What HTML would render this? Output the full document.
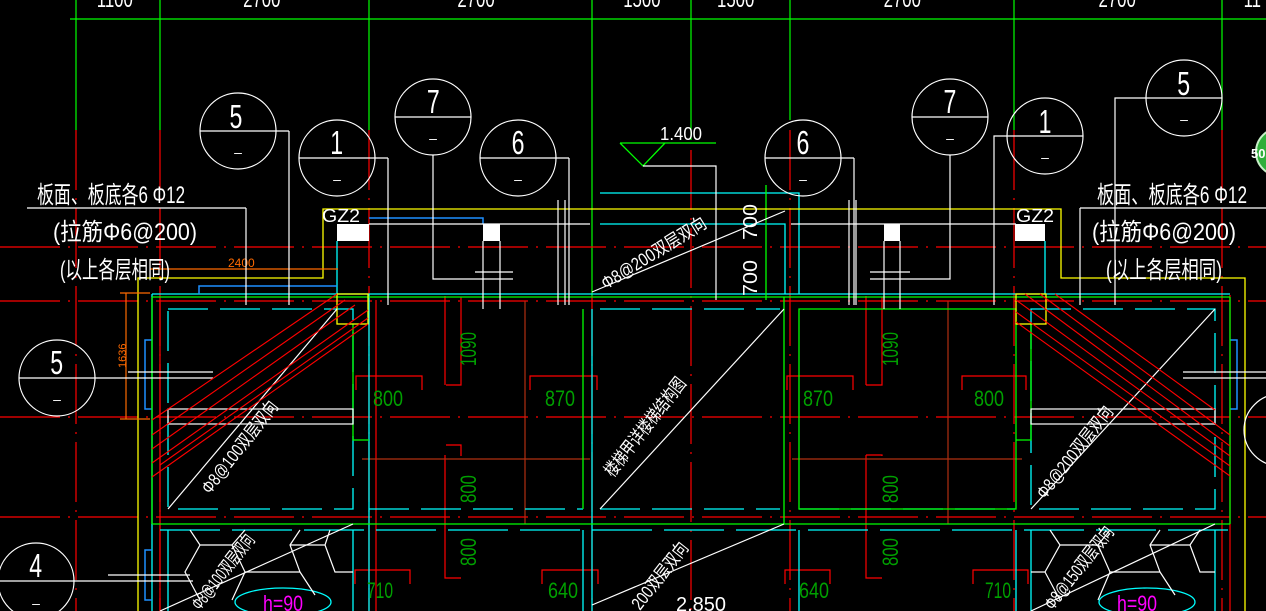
<!DOCTYPE html>
<html><head><meta charset="utf-8"><style>
html,body{margin:0;padding:0;background:#000;width:1266px;height:611px;overflow:hidden}
svg{display:block}
text{font-family:"Liberation Sans","Noto Sans CJK SC",sans-serif}
</style></head><body>
<svg width="1266" height="611" viewBox="0 0 1266 611" xmlns="http://www.w3.org/2000/svg">
<rect width="1266" height="611" fill="#000"/>
<g stroke="#00ff00" stroke-width="1.2" fill="none">
<line x1="70" y1="19" x2="1266" y2="19"/>
<line x1="76" y1="0" x2="76" y2="130"/><line x1="160" y1="0" x2="160" y2="130"/>
<line x1="369" y1="0" x2="369" y2="130"/><line x1="592" y1="0" x2="592" y2="296"/>
<line x1="691" y1="0" x2="691" y2="140"/><line x1="790" y1="0" x2="790" y2="120"/>
<line x1="1014" y1="0" x2="1014" y2="130"/><line x1="1222" y1="0" x2="1222" y2="130"/>
</g>
<g fill="#fff" font-size="24" text-anchor="middle" transform="scale(0.7,1)">
<text x="164" y="7">1100</text><text x="374" y="7">2700</text><text x="680" y="7">2700</text>
<text x="917" y="7">1500</text><text x="1051" y="7">1500</text><text x="1289" y="7">2700</text>
<text x="1596" y="7">2700</text><text x="1789" y="7">11</text>
</g>
<g stroke="#ff0000" stroke-width="1.2" stroke-dasharray="60,8,2,8" fill="none">
<line x1="76" y1="130" x2="76" y2="611"/><line x1="160" y1="130" x2="160" y2="611"/>
<line x1="369" y1="130" x2="369" y2="611"/><line x1="592" y1="296" x2="592" y2="611"/>
<line x1="691" y1="150" x2="691" y2="611"/><line x1="790" y1="130" x2="790" y2="611"/>
<line x1="1014" y1="130" x2="1014" y2="611"/><line x1="1222" y1="130" x2="1222" y2="611"/>
<line x1="0" y1="247" x2="1266" y2="247"/><line x1="0" y1="301" x2="1266" y2="301"/>
<line x1="0" y1="417" x2="1266" y2="417"/><line x1="0" y1="517" x2="1266" y2="517"/>
</g>
<g stroke="#ff0000" stroke-width="1.2" fill="none">
<line x1="160" y1="300" x2="160" y2="611"/><line x1="376" y1="300" x2="376" y2="611"/>
<line x1="1230" y1="295" x2="1230" y2="611"/>
<path d="M356 390 V376 H422 V390"/><path d="M530 390 V376 H597 V390"/>
<path d="M787 390 V376 H853 V390"/><path d="M962 390 V376 H1026 V390"/>
<path d="M461 297 V385 H446"/><path d="M461 456 V445 H446"/>
<path d="M882 297 V385 H866"/><path d="M882 456 V455 H866"/>
<path d="M445 296 V385"/><path d="M445 455 V578 H461"/><path d="M866 455 V578 H882"/><path d="M866 296 V385"/>
<path d="M355 584 V570 H410 V584"/><path d="M542 584 V570 H598 V584"/>
<path d="M785 584 V570 H830 V584"/><path d="M973 584 V570 H1028 V584"/>
</g>
<g stroke="#b03010" stroke-width="1.2" fill="none">
<line x1="362" y1="459" x2="590" y2="459"/><line x1="525" y1="301" x2="525" y2="524"/>
<line x1="792" y1="459" x2="1022" y2="459"/><line x1="948" y1="301" x2="948" y2="524"/>
</g>
<g stroke="#00ffff" stroke-width="1.3" fill="none">
<line x1="152" y1="294" x2="1230" y2="294"/>
<path d="M168 309 H353 V509 H168 Z" stroke-dasharray="40,12"/>
<path d="M1031 309 H1215 V509 H1031 Z" stroke-dasharray="40,12"/>
<line x1="152" y1="294" x2="152" y2="611"/><line x1="369" y1="294" x2="369" y2="611"/>
<line x1="592" y1="309" x2="592" y2="611"/><line x1="600" y1="309" x2="780" y2="309" stroke-dasharray="40,12"/>
<line x1="600" y1="509" x2="780" y2="509" stroke-dasharray="40,12"/>
<line x1="369" y1="509" x2="583" y2="509" stroke-dasharray="40,12"/>
<line x1="799" y1="509" x2="1015" y2="509" stroke-dasharray="40,12"/>
<line x1="160" y1="530" x2="1230" y2="530" stroke-dasharray="60,12"/>
<line x1="168" y1="530" x2="168" y2="611"/><line x1="353" y1="530" x2="353" y2="611"/>
<line x1="1031" y1="530" x2="1031" y2="611"/><line x1="1215" y1="530" x2="1215" y2="611"/>
<line x1="799" y1="530" x2="799" y2="611"/><line x1="1016" y1="530" x2="1016" y2="611"/>
<line x1="583" y1="530" x2="583" y2="611"/>
<line x1="337" y1="241" x2="337" y2="294"/><line x1="1045" y1="241" x2="1045" y2="294"/>
<path d="M600 193 H799 V294"/><path d="M600 224 H785 V294"/>
<ellipse cx="283" cy="602" rx="48" ry="14"/><ellipse cx="1147" cy="602" rx="48" ry="14"/>
</g>
<g stroke="#1e90ff" stroke-width="1.5" fill="none">
<path d="M199 294 V286 H337"/><path d="M369 218 H483 V224"/>
<path d="M152 340 H145 V409 H152"/><path d="M152 550 H145 V600 H152"/>
<path d="M1230 340 H1237 V409 H1230"/>
</g>
<g stroke="#00ff00" stroke-width="1.3" fill="none">
<line x1="152" y1="297" x2="1230" y2="297"/>
<line x1="152" y1="297" x2="152" y2="524"/><line x1="152" y1="524" x2="1230" y2="524"/>
<line x1="1230" y1="297" x2="1230" y2="524"/>
<path d="M353 324 V440 H369"/>
<path d="M583 309 V509"/><path d="M784 297 V524"/><path d="M799 309 H1016 V509 H799 Z"/>
<path d="M1031 324 V440 H1016"/>
<line x1="766" y1="185" x2="766" y2="300"/>
<path d="M620 143 L643 166 L665 143 M620 143 H716"/>
</g>
<g stroke="#ffff00" stroke-width="1.3" fill="none">
<path d="M138 611 V278 H323 V209 H1061 V278 H1245 V611"/>
<rect x="337" y="294" width="31" height="30"/><rect x="1016" y="294" width="30" height="30"/>
</g>
<g stroke="#ff6a00" stroke-width="1.2" fill="none">
<line x1="150" y1="269" x2="338" y2="269"/><line x1="126" y1="293" x2="126" y2="419"/>
<line x1="120" y1="293" x2="150" y2="293"/><line x1="120" y1="419" x2="150" y2="419"/>
</g>
<text x="228" y="267" fill="#ff6a00" font-size="12">2400</text>
<text x="0" y="0" fill="#ff6a00" font-size="11" transform="translate(126,368) rotate(-90)">1636</text>
<g stroke="#fff" stroke-width="1.2" fill="none">
<circle cx="238" cy="131" r="38"/><line x1="200" y1="131" x2="289" y2="131"/><line x1="289" y1="131" x2="289" y2="305"/>
<circle cx="337" cy="158" r="38"/><line x1="299" y1="158" x2="388" y2="158"/><line x1="388" y1="158" x2="388" y2="305"/>
<circle cx="433" cy="117" r="38"/><line x1="395" y1="117" x2="471" y2="117"/><path d="M433 155 V279 H513"/>
<circle cx="518" cy="158" r="38"/><line x1="480" y1="158" x2="569" y2="158"/><line x1="569" y1="158" x2="569" y2="305"/>
<circle cx="803" cy="158" r="38"/><line x1="765" y1="158" x2="854" y2="158"/><line x1="854" y1="158" x2="854" y2="305"/>
<circle cx="950" cy="117" r="38"/><line x1="912" y1="117" x2="988" y2="117"/><path d="M950 155 V279 H870"/>
<circle cx="1045" cy="136" r="38"/><path d="M1083 136 H994 V305"/>
<circle cx="1184" cy="98" r="38"/><path d="M1222 98 H1115 V305"/>
<circle cx="57" cy="378" r="38"/><line x1="19" y1="378" x2="213" y2="378"/><line x1="128" y1="372" x2="213" y2="372"/>
<circle cx="36" cy="581" r="38"/><line x1="0" y1="581" x2="193" y2="581"/><line x1="108" y1="575" x2="190" y2="575"/>
<circle cx="1280" cy="430" r="36"/><line x1="1183" y1="372" x2="1266" y2="372"/><line x1="1183" y1="378" x2="1266" y2="378"/>
<line x1="27" y1="208" x2="246" y2="208"/><line x1="246" y1="208" x2="246" y2="305"/>
<line x1="1080" y1="208" x2="1266" y2="208"/><line x1="1080" y1="208" x2="1080" y2="305"/>
<line x1="369" y1="224" x2="590" y2="224"/><line x1="791" y1="224" x2="1016" y2="224"/>
<path d="M643 166 H716 V300"/>
<line x1="483" y1="241" x2="483" y2="309"/><line x1="500" y1="241" x2="500" y2="309"/>
<line x1="884" y1="241" x2="884" y2="309"/><line x1="900" y1="241" x2="900" y2="309"/>
<line x1="475" y1="272" x2="513" y2="272"/><line x1="870" y1="272" x2="910" y2="272"/>
<line x1="558" y1="200" x2="558" y2="305"/><line x1="565" y1="200" x2="565" y2="305"/>
<line x1="849" y1="200" x2="849" y2="305"/><line x1="856" y1="200" x2="856" y2="305"/>
<line x1="168" y1="509" x2="337" y2="309"/><line x1="1031" y1="509" x2="1215" y2="309"/>
<line x1="600" y1="509" x2="784" y2="309"/><line x1="592" y1="292" x2="785" y2="211"/>
<line x1="592" y1="605" x2="784" y2="524"/><line x1="160" y1="611" x2="353" y2="524"/>
<line x1="1031" y1="611" x2="1215" y2="524"/>
<rect x="168" y="409" width="185" height="15"/><rect x="1031" y="409" width="184" height="15"/>
<path d="M190 530 L200 545 L185 572 L200 600 M200 545 H232 L245 530 M232 545 L245 572 L232 600 M245 572 H300 L290 545 L300 530 M300 572 L315 595 M290 545 H325 L330 530 M325 545 L335 572 H353"/>
<path d="M1050 530 L1060 545 L1045 572 L1060 600 M1060 545 H1098 L1110 530 M1098 545 L1110 572 H1160 L1150 545 L1160 530 M1160 572 L1175 595 M1150 545 H1190 L1200 530 M1190 545 L1200 572 H1215 M1031 572 H1045 M1110 572 L1098 600"/>
</g>
<g fill="#fff">
<rect x="337" y="224" width="32" height="17"/><rect x="483" y="224" width="17" height="17"/>
<rect x="884" y="224" width="16" height="17"/><rect x="1015" y="224" width="30" height="17"/>
</g>
<g stroke="#ff0000" stroke-width="1.1">
<line x1="152" y1="420" x2="337" y2="294"/><line x1="152" y1="435" x2="345" y2="300"/>
<line x1="152" y1="449" x2="355" y2="305"/><line x1="152" y1="463" x2="368" y2="310"/>
<line x1="152" y1="477" x2="368" y2="324"/><line x1="160" y1="465" x2="368" y2="318"/>
<line x1="1016" y1="300" x2="1230" y2="456"/><line x1="1016" y1="312" x2="1230" y2="466"/>
<line x1="1016" y1="322" x2="1230" y2="476"/><line x1="1025" y1="294" x2="1230" y2="446"/>
<line x1="1040" y1="294" x2="1230" y2="435"/><line x1="1055" y1="294" x2="1215" y2="410"/>
</g>
<g fill="#fff" font-size="33" text-anchor="middle">
<g transform="scale(0.7,1)">
<text x="337" y="128">5</text><text x="481" y="154">1</text><text x="619" y="113">7</text><text x="740" y="154">6</text>
<text x="1147" y="154">6</text><text x="1357" y="113">7</text><text x="1493" y="133">1</text><text x="1691" y="95">5</text>
<text x="81" y="374">5</text><text x="51" y="577">4</text>
</g>
</g>
<g fill="#fff" font-size="14" text-anchor="middle">
<text x="238" y="157">–</text><text x="337" y="184">–</text><text x="433" y="143">–</text><text x="518" y="184">–</text>
<text x="803" y="184">–</text><text x="950" y="143">–</text><text x="1045" y="162">–</text><text x="1184" y="124">–</text>
<text x="57" y="404">–</text><text x="36" y="608">–</text>
</g>
<g fill="#fff" font-size="24">
<text x="37" y="203" textLength="148" lengthAdjust="spacingAndGlyphs">板面、板底各6 Φ12</text>
<text x="53" y="240" textLength="144" lengthAdjust="spacingAndGlyphs">(拉筋Φ6@200)</text>
<text x="60" y="278" textLength="110" lengthAdjust="spacingAndGlyphs">(以上各层相同)</text>
<text x="1097" y="203" textLength="150" lengthAdjust="spacingAndGlyphs">板面、板底各6 Φ12</text>
<text x="1092" y="240" textLength="144" lengthAdjust="spacingAndGlyphs">(拉筋Φ6@200)</text>
<text x="1106" y="278" textLength="116" lengthAdjust="spacingAndGlyphs">(以上各层相同)</text>
<text x="322" y="222" font-size="18" textLength="38" lengthAdjust="spacingAndGlyphs">GZ2</text>
<text x="1016" y="222" font-size="18" textLength="38" lengthAdjust="spacingAndGlyphs">GZ2</text>
<text x="660" y="140" font-size="18" textLength="42" lengthAdjust="spacingAndGlyphs">1.400</text>
<text x="676" y="611" font-size="20" textLength="50" lengthAdjust="spacingAndGlyphs">2.850</text>
</g>
<g fill="#fff" font-size="18">
<text transform="translate(210,495) rotate(-52)" textLength="112" lengthAdjust="spacingAndGlyphs">Φ8@100双层双向</text>
<text transform="translate(1045,500) rotate(-52)" textLength="112" lengthAdjust="spacingAndGlyphs">Φ8@200双层双向</text>
<text transform="translate(613,478) rotate(-52)" textLength="120" lengthAdjust="spacingAndGlyphs">楼梯甲详楼梯结构图</text>
<text transform="translate(606,290) rotate(-32)" textLength="120" lengthAdjust="spacingAndGlyphs">Φ8@200双层双向</text>
<text transform="translate(200,611) rotate(-52)" textLength="90" lengthAdjust="spacingAndGlyphs">Φ8@100双层双向</text>
<text transform="translate(1053,611) rotate(-52)" textLength="100" lengthAdjust="spacingAndGlyphs">Φ8@150双层双向</text>
<text transform="translate(640,611) rotate(-52)" textLength="80" lengthAdjust="spacingAndGlyphs">200双层双向</text>
<text transform="translate(757,240) rotate(-90)" font-size="20" textLength="36" lengthAdjust="spacingAndGlyphs">700</text>
<text transform="translate(757,296) rotate(-90)" font-size="20" textLength="36" lengthAdjust="spacingAndGlyphs">700</text>
</g>
<g fill="#00a000" font-size="22">
<text x="373" y="406" textLength="30" lengthAdjust="spacingAndGlyphs">800</text>
<text x="545" y="406" textLength="30" lengthAdjust="spacingAndGlyphs">870</text>
<text x="803" y="406" textLength="30" lengthAdjust="spacingAndGlyphs">870</text>
<text x="974" y="406" textLength="30" lengthAdjust="spacingAndGlyphs">800</text>
<text x="367" y="598" textLength="26" lengthAdjust="spacingAndGlyphs">710</text>
<text x="548" y="598" textLength="30" lengthAdjust="spacingAndGlyphs">640</text>
<text x="799" y="598" textLength="30" lengthAdjust="spacingAndGlyphs">640</text>
<text x="985" y="598" textLength="26" lengthAdjust="spacingAndGlyphs">710</text>
<text transform="translate(476,366) rotate(-90)" textLength="34" lengthAdjust="spacingAndGlyphs">1090</text>
<text transform="translate(476,503) rotate(-90)" textLength="28" lengthAdjust="spacingAndGlyphs">800</text>
<text transform="translate(476,566) rotate(-90)" textLength="28" lengthAdjust="spacingAndGlyphs">800</text>
<text transform="translate(898,366) rotate(-90)" textLength="34" lengthAdjust="spacingAndGlyphs">1090</text>
<text transform="translate(898,503) rotate(-90)" textLength="28" lengthAdjust="spacingAndGlyphs">800</text>
<text transform="translate(898,566) rotate(-90)" textLength="28" lengthAdjust="spacingAndGlyphs">800</text>
</g>
<g fill="#ff00ff" font-size="22">
<text x="263" y="611" textLength="40" lengthAdjust="spacingAndGlyphs">h=90</text>
<text x="1117" y="611" textLength="40" lengthAdjust="spacingAndGlyphs">h=90</text>
</g>
<circle cx="1280" cy="152" r="24" fill="#2fae3a" stroke="#c8f0c8" stroke-width="2"/>
<text x="1251" y="158" fill="#fff" font-size="13" font-weight="bold">50</text>
</svg>
</body></html>
